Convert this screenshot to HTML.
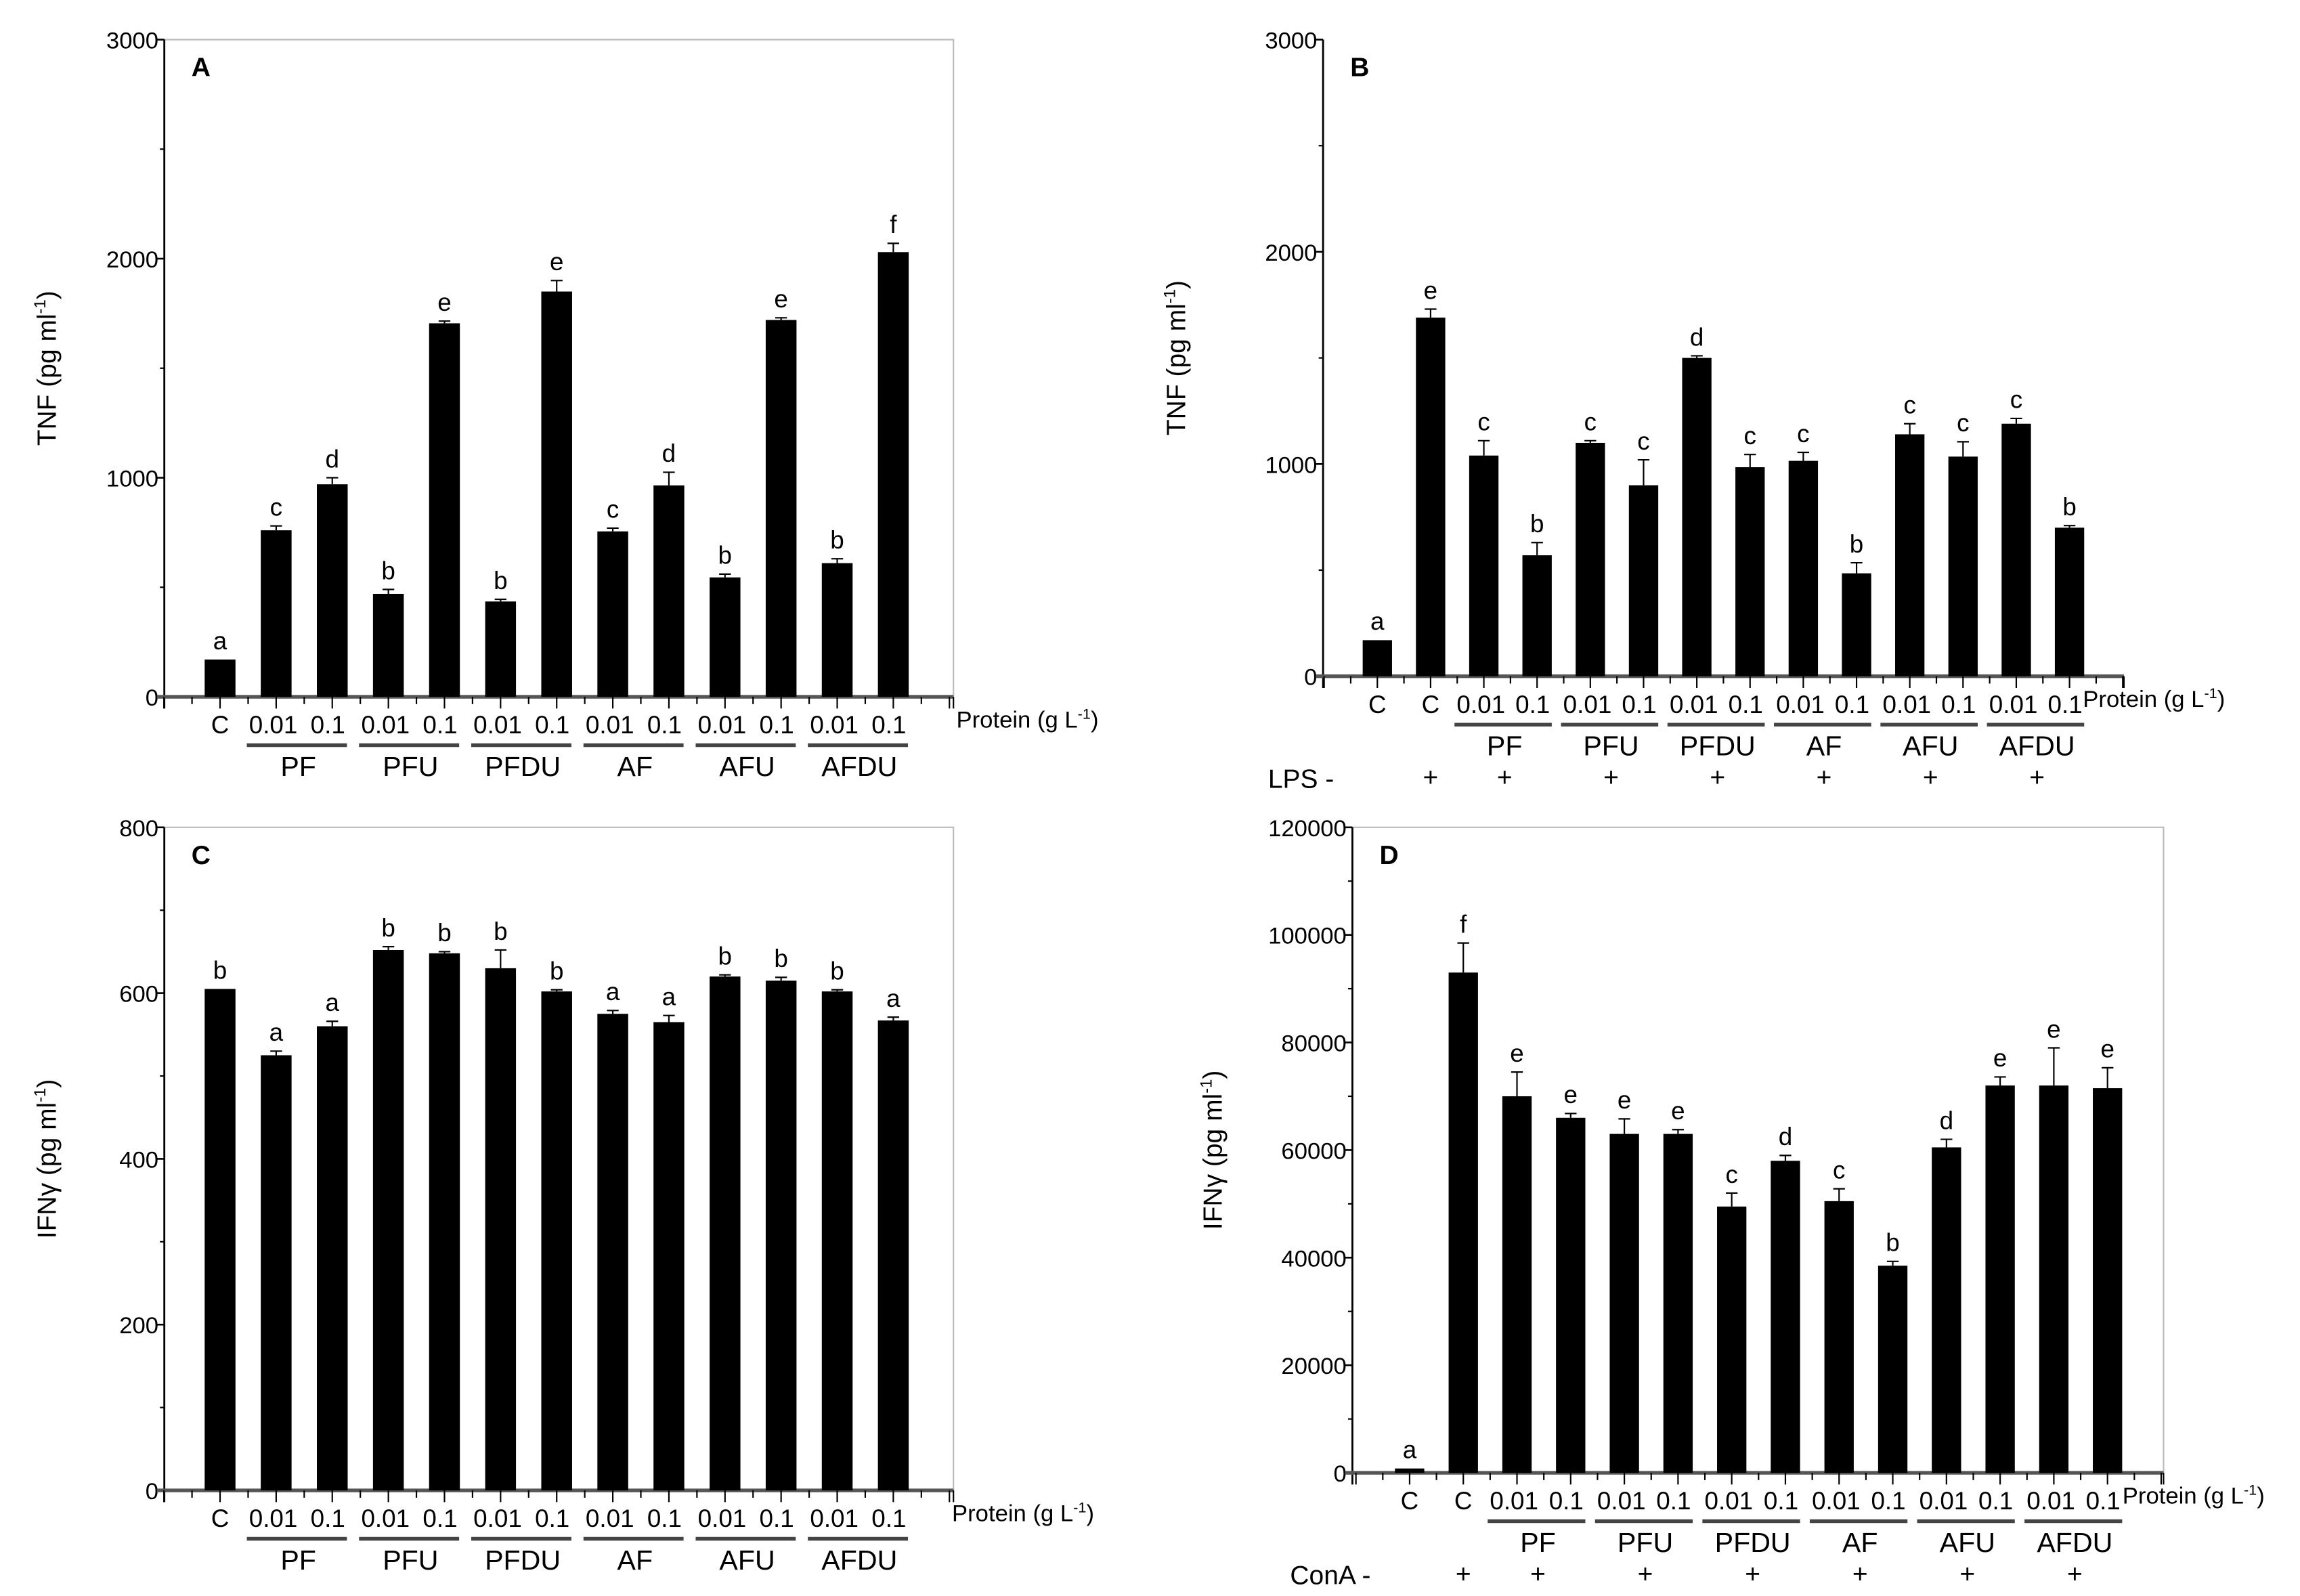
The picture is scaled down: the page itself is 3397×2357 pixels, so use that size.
<!DOCTYPE html>
<html><head><meta charset="utf-8">
<style>
html,body{margin:0;padding:0;background:#fff;}
svg{display:block;font-family:"Liberation Sans",Arial,sans-serif;}
</style></head>
<body>
<svg id="fig" width="3397" height="2357" viewBox="0 0 1568 1088" xmlns="http://www.w3.org/2000/svg"></svg>
<script>
// ---- data ----
const groupsA = ["PF","PFU","PFDU","AF","AFU","AFDU"];
const valuesA = [170,760,970,470,1705,435,1850,755,965,545,1720,610,2030];
const errorsA = [0,20,30,20,10,10,50,15,60,15,10,20,40];
const lettersA = ["a","c","d","b","e","b","e","c","d","b","e","b","f"];
const ticksA = [0,1000,2000,3000];

const valuesB = [170,1690,1040,570,1100,900,1500,985,1015,485,1140,1035,1190,700];
const errorsB = [0,40,70,60,10,120,10,60,40,50,50,70,25,10];
const lettersB = ["a","e","c","b","c","c","d","c","c","b","c","c","c","b"];
const ticksB = [0,1000,2000,3000];

const valuesC = [605,525,560,652,648,630,602,575,565,620,615,602,567];
const errorsC = [0,5,6,4,2,22,2,4,8,2,4,2,4];
const lettersC = ["b","a","a","b","b","b","b","a","a","b","b","b","a"];
const ticksC = [0,200,400,600,800];

const valuesD = [800,93000,70000,66000,63000,63000,49500,58000,50500,38500,60500,72000,72000,71500];
const errorsD = [0,5500,4500,800,2800,800,2500,1000,2300,800,1500,1600,7000,3800];
const lettersD = ["a","f","e","e","e","e","c","d","c","b","d","e","e","e"];
const ticksD = [0,20000,40000,60000,80000,100000,120000];

const NS="http://www.w3.org/2000/svg";
const svg=document.getElementById('fig');
function mk(tag,attrs,parent){const e=document.createElementNS(NS,tag);for(const k in attrs)e.setAttribute(k,attrs[k]);(parent||svg).appendChild(e);return e;}
function txt(s,x,y,size,anchor,parent,extra){const t=mk('text',Object.assign({x:x,y:y,'font-size':size,'text-anchor':anchor||'middle',fill:'#000'},extra||{}),parent);t.textContent=s;return t;}

function panel(o){
  const g=mk('g',{});
  
  
  const ymax=o.ticks[o.ticks.length-1];
  const Y=v=>o.y0-(v/ymax)*(o.y0-o.top);
  const n=o.values.length;
  const X=i=>o.first+i*o.step;
  if(o.frame){
    const fr=mk('polyline',{points:`${o.ax},${o.top} ${o.right},${o.top} ${o.right},${o.y0}`,fill:'none',stroke:'#bbb','stroke-width':1},g);
    
    
  }
  const ya=mk('line',{x1:o.ax,y1:o.top,x2:o.ax,y2:o.y0+8,stroke:'#000','stroke-width':1.3},g);
  
  
  for(let i=0;i<o.ticks.length;i++){
    const v=o.ticks[i];
    mk('line',{x1:o.ax-5,y1:Y(v),x2:o.ax,y2:Y(v),stroke:'#000','stroke-width':1.2},g);
    const t=txt(String(v),o.ax-4,Y(v)+6,16,'end',g);
    
    
    if(i<o.ticks.length-1){const m=(v+o.ticks[i+1])/2;mk('line',{x1:o.ax-3,y1:Y(m),x2:o.ax,y2:Y(m),stroke:'#000','stroke-width':1},g);}
  }
  const xa=mk('line',{x1:o.ax-5,y1:o.y0,x2:o.right,y2:o.y0,stroke:'#555','stroke-width':2.5},g);
  
  
  for(let i=-1;i<=n;i++){
    if(X(i)<=o.right+1) mk('line',{x1:X(i),y1:o.y0,x2:X(i),y2:o.y0+8,stroke:'#000','stroke-width':1},g);
    if(X(i)+o.step/2<o.right-2) mk('line',{x1:X(i)+o.step/2,y1:o.y0,x2:X(i)+o.step/2,y2:o.y0+5,stroke:'#000','stroke-width':1},g);
  }
  mk('line',{x1:o.right,y1:o.y0,x2:o.right,y2:o.y0+8,stroke:'#000','stroke-width':1},g);
  for(let i=0;i<n;i++){
    const v=o.values[i],x=X(i),w=o.bw;
    const b=mk('rect',{x:x-w/2,y:Y(v),width:w,height:o.y0-Y(v),fill:'#000'},g);
    
    
    const e=o.errors[i];
    if(e>0){
      mk('line',{x1:x,y1:Y(v),x2:x,y2:Y(v+e),stroke:'#000','stroke-width':1},g);
      mk('line',{x1:x-4,y1:Y(v+e),x2:x+4,y2:Y(v+e),stroke:'#000','stroke-width':1},g);
    }
    const l=txt(o.letters[i],x,Y(v+e)-7,17,'middle',g);
    
    
  }
  const nc=o.controls;
  for(let i=0;i<nc;i++){const t=txt('C',X(i),o.ly,17,'middle',g);}
  for(let k=0;k<groupsA.length;k++){
    const i=nc+2*k;
    const a=txt('0.01',X(i)-2,o.ly,17,'middle',g);
    
    
    const b=txt('0.1',X(i+1)-3,o.ly,17,'middle',g);
    
    
    mk('line',{x1:X(i)-20,y1:o.ly+8,x2:X(i+1)+10,y2:o.ly+8,stroke:'#444','stroke-width':2.5},g);
    const gl=txt(groupsA[k],(X(i)+X(i+1))/2-4,o.ly+29,19,'middle',g);
    
    
    if(o.treat){const p=txt('+',(X(i)+X(i+1))/2-4,o.ly+50,18,'middle',g);}
  }
  if(o.treat){
    const tl=txt(o.treat+' -',o.ax-15,o.ly+51,18,'middle',g);
    
    
    const p=txt('+',X(1),o.ly+50,18,'middle',g);
    
    
  }
  const pl=mk('text',{x:o.plx,y:o.ly-4,'font-size':16,'text-anchor':'start'},g);
  pl.innerHTML='Protein (g L<tspan dy="-6" font-size="10">-1</tspan><tspan dy="6">)</tspan>';
  
  
  const cy=(o.top+o.y0)/2;
  const yt=mk('text',{x:0,y:0,'font-size':18,'text-anchor':'middle',transform:`translate(${o.ylx},${cy}) rotate(-90)`},g);
  yt.innerHTML=o.ytitle+'  (pg ml<tspan dy="-7" font-size="11">-1</tspan><tspan dy="7">)</tspan>';
  
  
  const pt=txt(o.letter,o.ax+25,o.top+25,18,'middle',g,{'font-weight':'bold'});
  
  
}

panel({name:'panel-a',values:valuesA,errors:errorsA,letters:lettersA,ticks:ticksA,ax:112,top:27,y0:475,right:650,first:150,step:38.25,bw:21,controls:1,ly:500,ylx:38,ytitle:'TNF',letter:'A',frame:true,plx:652});
panel({name:'panel-b',values:valuesB,errors:errorsB,letters:lettersB,ticks:ticksB,ax:902,top:27,y0:461,right:1448,first:939,step:36.3,bw:20,controls:2,ly:486,ylx:808,ytitle:'TNF',letter:'B',treat:'LPS',frame:false,plx:1420});
panel({name:'panel-c',values:valuesC,errors:errorsC,letters:lettersC,ticks:ticksC,ax:112,top:564,y0:1016,right:650,first:150,step:38.25,bw:21,controls:1,ly:1041,ylx:38,ytitle:'IFNγ',letter:'C',frame:true,plx:649});
panel({name:'panel-d',values:valuesD,errors:errorsD,letters:lettersD,ticks:ticksD,ax:922,top:564,y0:1004,right:1475,first:961,step:36.6,bw:20,controls:2,ly:1029,ylx:833,ytitle:'IFNγ',letter:'D',treat:'ConA',frame:true,plx:1447});
</script>
</body></html>
